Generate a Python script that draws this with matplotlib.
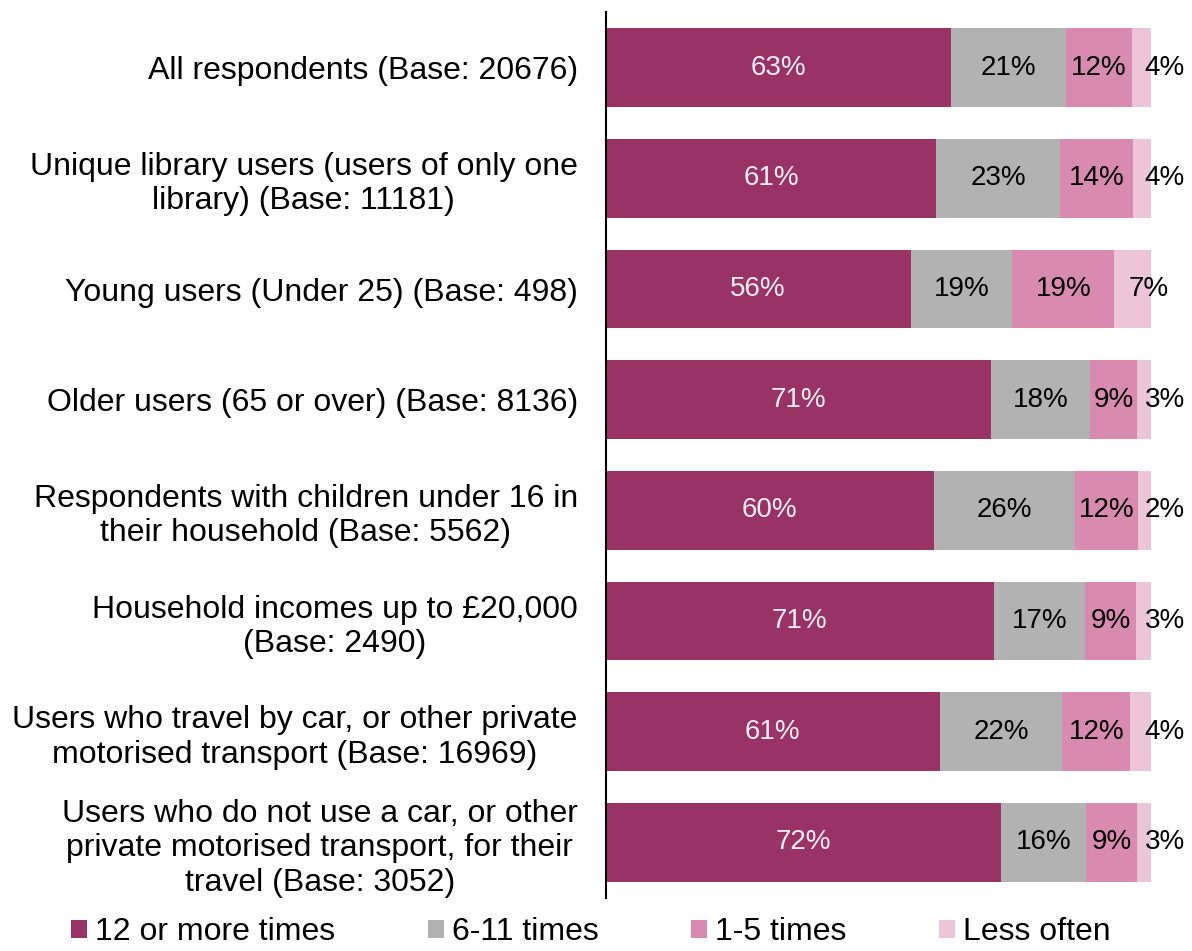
import matplotlib
matplotlib.use("Agg")
import matplotlib.pyplot as plt
import numpy as np

plt.rcParams['font.family'] = ['Liberation Sans', 'DejaVu Sans']

# --- data ---
groups = [
    "All respondents (Base: 20676)",
    "Unique library users (users of only one\nlibrary) (Base: 11181)",
    "Young users (Under 25) (Base: 498)",
    "Older users (65 or over) (Base: 8136)",
    "Respondents with children under 16 in\ntheir household (Base: 5562)",
    "Household incomes up to £20,000\n(Base: 2490)",
    "Users who travel by car, or other private\nmotorised transport (Base: 16969)",
    "Users who do not use a car, or other\nprivate motorised transport, for their\ntravel (Base: 3052)",
]
series_names = ["12 or more times", "6-11 times", "1-5 times", "Less often"]
twelve_plus = [63.2, 60.6, 55.9, 70.6, 60.1, 71.2, 61.3, 72.4]
six_eleven = [21.2, 22.6, 18.6, 18.2, 25.9, 16.7, 22.4, 15.6]
one_five = [12.0, 13.5, 18.7, 8.6, 11.6, 9.3, 12.4, 9.4]
less_often = [3.6, 3.5, 6.8, 2.6, 2.4, 2.8, 3.9, 2.6]

colors = ["#993366", "#b2b2b2", "#d98ab0", "#ecc5d9"]
text_colors = ["#f4eef2", "black", "black", "black"]

fig = plt.figure(figsize=(11.92, 9.51), dpi=100)
ax = fig.add_axes([0.508, 0.056, 0.458, 0.931])

y = np.arange(len(groups))
left = np.zeros(len(groups))
all_series = [twelve_plus, six_eleven, one_five, less_often]
for i, vals in enumerate(all_series):
    vals = np.array(vals)
    ax.barh(y, vals, left=left, height=0.71, color=colors[i],
            label=series_names[i])
    for j, v in enumerate(vals):
        cx = left[j] + v / 2
        if i == 3:
            # last segment labels sit just to the right of the bar end
            cx = 102.4 if v < 5 else cx + 2.8
        ax.text(cx, y[j], f"{v:.0f}%", ha='center', va='center',
                fontsize=20, color=text_colors[i], clip_on=False)
    left += vals

ax.set_xlim(0, 100)
ax.set_ylim(len(groups) - 0.5, -0.5)
ax.set_yticks(y)
ax.set_yticklabels(groups, fontsize=23, multialignment='center')
ax.tick_params(axis='y', length=0, pad=20)
ax.set_xticks([])
for s in ['top', 'right', 'bottom']:
    ax.spines[s].set_visible(False)
ax.spines['left'].set_linewidth(1.5)

fig.legend(loc='center', bbox_to_anchor=(0.496, 0.02), ncol=4,
           frameon=False, fontsize=23, handlelength=0.5, handleheight=0.5,
           handletextpad=0.25, columnspacing=2.9, borderpad=0.1)

fig.savefig("out.png", dpi=100)
